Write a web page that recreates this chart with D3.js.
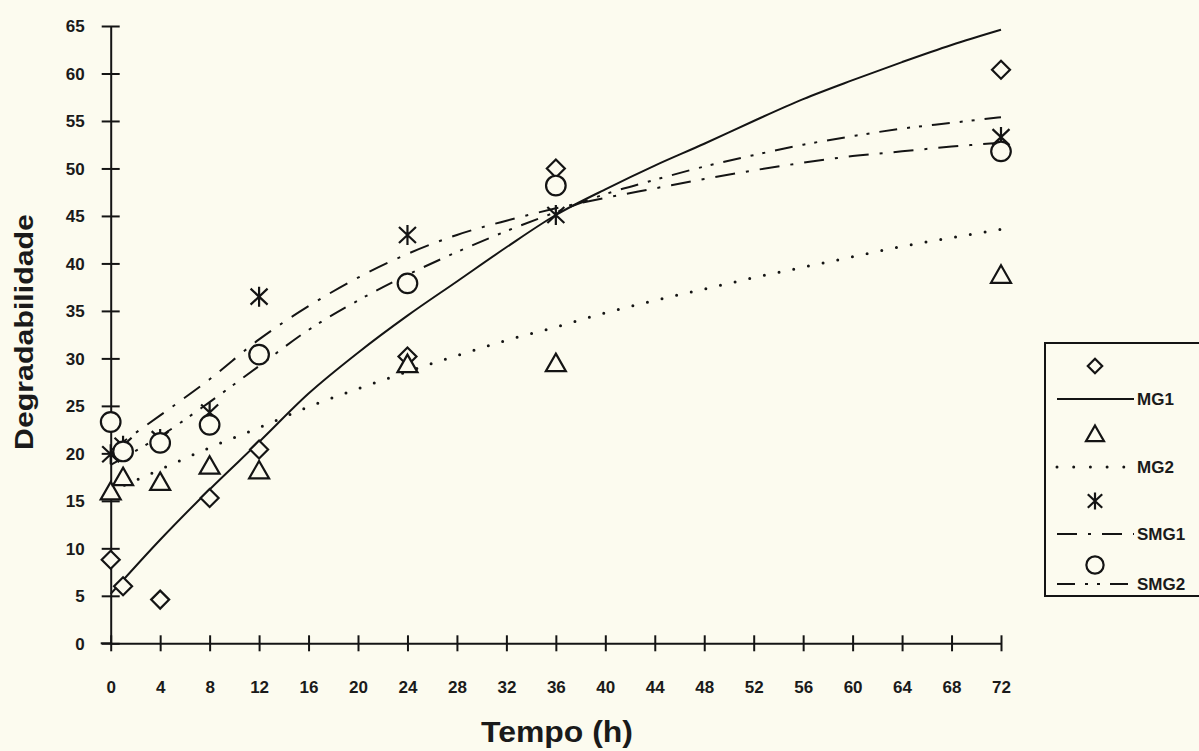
<!DOCTYPE html>
<html>
<head>
<meta charset="utf-8">
<script src="https://cdn.jsdelivr.net/npm/d3@7"></script>
<style>
  html, body { margin: 0; padding: 0; background: #fcfbef; }
  svg { display: block; }
  text { font-family: "Liberation Sans", Arial, sans-serif; fill: #1a1a1a; }
</style>
</head>
<body>
<svg id="chart" width="1199" height="751"></svg>
<script>
// ---- data ----
const times = [0, 1, 4, 8, 12, 24, 36, 72];
const obsMG1  = [8.8, 6.0, 4.6, 15.3, 20.4, 30.2, 50.0, 60.4];
const obsMG2  = [16.0, 17.5, 17.0, 18.7, 18.2, 29.4, 29.5, 38.8];
const obsSMG1 = [19.9, 20.8, 21.5, 24.3, 36.5, 43.0, 45.1, 53.3];
const obsSMG2 = [23.3, 20.2, 21.1, 23.0, 30.4, 37.9, 48.2, 51.8];

const fitTimes = [0, 4, 8, 12, 16, 20, 24, 28, 32, 36, 40, 44, 48, 52, 56, 60, 64, 68, 72];
const fitMG1  = [5.2, 10.9, 16.2, 21.2, 26.3, 30.6, 34.5, 38.1, 41.7, 45.1, 47.8, 50.3, 52.6, 55.0, 57.3, 59.3, 61.2, 63.0, 64.6];
const fitMG2  = [16.0, 18.3, 20.6, 22.7, 24.9, 26.8, 28.6, 30.3, 31.9, 33.3, 34.8, 36.1, 37.3, 38.5, 39.6, 40.7, 41.8, 42.7, 43.6];
const fitSMG1 = [20.3, 24.0, 27.8, 32.0, 35.5, 38.5, 41.0, 43.0, 44.5, 45.8, 46.9, 47.9, 48.9, 49.8, 50.6, 51.3, 51.8, 52.3, 52.7];
const fitSMG2 = [18.8, 21.8, 25.4, 29.2, 33.0, 36.1, 38.8, 41.2, 43.4, 45.4, 47.3, 48.8, 50.2, 51.4, 52.5, 53.4, 54.2, 54.8, 55.4];

const xTicks = [0, 4, 8, 12, 16, 20, 24, 28, 32, 36, 40, 44, 48, 52, 56, 60, 64, 68, 72];
const yTicks = [0, 5, 10, 15, 20, 25, 30, 35, 40, 45, 50, 55, 60, 65];
const seriesNames = ["MG1", "MG2", "SMG1", "SMG2"];
const xTitle = "Tempo (h)";
const yTitle = "Degradabilidade";

// ---- styling ----
const BG = "#fcfbef";
const INK = "#141414";

// custom symbol shapes (scale k)
const mk = {
  diamond: k => ({ draw(ctx) { const r = 9 * k; ctx.moveTo(0, -r); ctx.lineTo(r, 0); ctx.lineTo(0, r); ctx.lineTo(-r, 0); ctx.closePath(); } }),
  triangle: k => ({ draw(ctx) { ctx.moveTo(0, -9.5 * k); ctx.lineTo(10 * k, 8 * k); ctx.lineTo(-10 * k, 8 * k); ctx.closePath(); } }),
  asterisk: k => ({ draw(ctx) { ctx.moveTo(0, -10 * k); ctx.lineTo(0, 10 * k); ctx.moveTo(-8.5 * k, -8 * k); ctx.lineTo(8.5 * k, 8 * k); ctx.moveTo(-8.5 * k, 8 * k); ctx.lineTo(8.5 * k, -8 * k); } }),
  circle: k => ({ draw(ctx) { const r = 9.8 * k; ctx.moveTo(r, 0); ctx.arc(0, 0, r, 0, 2 * Math.PI); } })
};

const series = [
  { name: seriesNames[0], obs: obsMG1,  fit: fitMG1,  sym: "diamond",  lk: 0.8,  dash: null,             fill: true },
  { name: seriesNames[1], obs: obsMG2,  fit: fitMG2,  sym: "triangle", lk: 0.9,  dash: "0,15",           fill: true, dotted: true },
  { name: seriesNames[2], obs: obsSMG1, fit: fitSMG1, sym: "asterisk", lk: 0.85, dash: "20,11,3,11",     fill: false },
  { name: seriesNames[3], obs: obsSMG2, fit: fitSMG2, sym: "circle",   lk: 0.88, dash: "18,10,3,9,3,10", fill: true }
];

const svg = d3.select("#chart");
svg.append("rect").attr("width", 1199).attr("height", 751).attr("fill", BG);

const x = d3.scaleLinear().domain([0, 72]).range([110.7, 1001]);
const y = d3.scaleLinear().domain([0, 65]).range([643.3, 26]);

// ---- axes ----
const xAxis = svg.append("g").attr("transform", `translate(0,${y(0)})`)
  .call(d3.axisBottom(x).tickValues(xTicks).tickSize(8).tickSizeOuter(0));
xAxis.select(".domain").attr("stroke", INK).attr("stroke-width", 2);
xAxis.selectAll(".tick line").attr("y1", -8).attr("y2", 8).attr("stroke", INK).attr("stroke-width", 2);
xAxis.selectAll(".tick text").attr("y", 50).attr("dy", 0)
  .style("font-size", "17px").style("font-weight", "bold").attr("fill", INK);

const yAxis = svg.append("g").attr("transform", `translate(${x(0)},0)`)
  .call(d3.axisLeft(y).tickValues(yTicks).tickSize(9).tickSizeOuter(0));
yAxis.select(".domain").attr("stroke", INK).attr("stroke-width", 2);
yAxis.selectAll(".tick line").attr("x1", 9).attr("x2", -9).attr("stroke", INK).attr("stroke-width", 2);
yAxis.selectAll(".tick text").attr("x", -26).attr("dy", "0.35em")
  .style("font-size", "17px").style("font-weight", "bold").attr("fill", INK);

// extend x-axis line slightly left like the reference
svg.append("line").attr("x1", x(0) - 10).attr("x2", x(0)).attr("y1", y(0)).attr("y2", y(0))
  .attr("stroke", INK).attr("stroke-width", 2);

// titles
svg.append("text").attr("x", 557).attr("y", 742).attr("text-anchor", "middle")
  .attr("textLength", 152).attr("lengthAdjust", "spacingAndGlyphs")
  .style("font-size", "30px").style("font-weight", "bold").text(xTitle);
svg.append("text").attr("transform", "translate(33,332) rotate(-90)").attr("text-anchor", "middle")
  .attr("textLength", 236).attr("lengthAdjust", "spacingAndGlyphs")
  .style("font-size", "25px").style("font-weight", "bold").text(yTitle);

// ---- fitted curves ----
const line = d3.line().x(d => x(d[0])).y(d => y(d[1])).curve(d3.curveMonotoneX);
series.forEach(s => {
  const p = svg.append("path")
    .attr("d", line(fitTimes.map((t, i) => [t, s.fit[i]])))
    .attr("fill", "none").attr("stroke", INK).attr("stroke-width", s.dotted ? 3 : 2);
  if (s.dash) p.attr("stroke-dasharray", s.dash);
  if (s.dotted) p.attr("stroke-linecap", "round");
});

// ---- observed markers ----
series.forEach(s => {
  svg.append("g").selectAll("path").data(times.map((t, i) => [t, s.obs[i]])).join("path")
    .attr("transform", d => `translate(${x(d[0])},${y(d[1])})`)
    .attr("d", d3.symbol().type(mk[s.sym](1))())
    .attr("fill", s.fill ? BG : "none").attr("stroke", INK).attr("stroke-width", 2.2);
});

// ---- legend ----
const lg = svg.append("g");
lg.append("rect").attr("x", 1045).attr("y", 343).attr("width", 170).attr("height", 253)
  .attr("fill", BG).attr("stroke", INK).attr("stroke-width", 2);
const legendRows = [[366, 399], [434, 467], [501, 534], [565, 584]];
series.forEach((s, i) => {
  const [my, ly] = legendRows[i];
  lg.append("path").attr("transform", `translate(1095,${my})`)
    .attr("d", d3.symbol().type(mk[s.sym](s.lk))())
    .attr("fill", s.fill ? BG : "none").attr("stroke", INK).attr("stroke-width", 2.2);
  const l = lg.append("line").attr("x1", 1057).attr("x2", 1134).attr("y1", ly).attr("y2", ly)
    .attr("stroke", INK).attr("stroke-width", s.dotted ? 3 : 2);
  if (s.dash) l.attr("stroke-dasharray", s.dotted ? "0,16.7" : s.dash);
  if (s.dotted) l.attr("stroke-linecap", "round");
  lg.append("text").attr("x", 1137).attr("y", ly).attr("dy", "0.36em")
    .style("font-size", "17px").style("font-weight", "bold").text(s.name);
});
</script>
</body>
</html>
